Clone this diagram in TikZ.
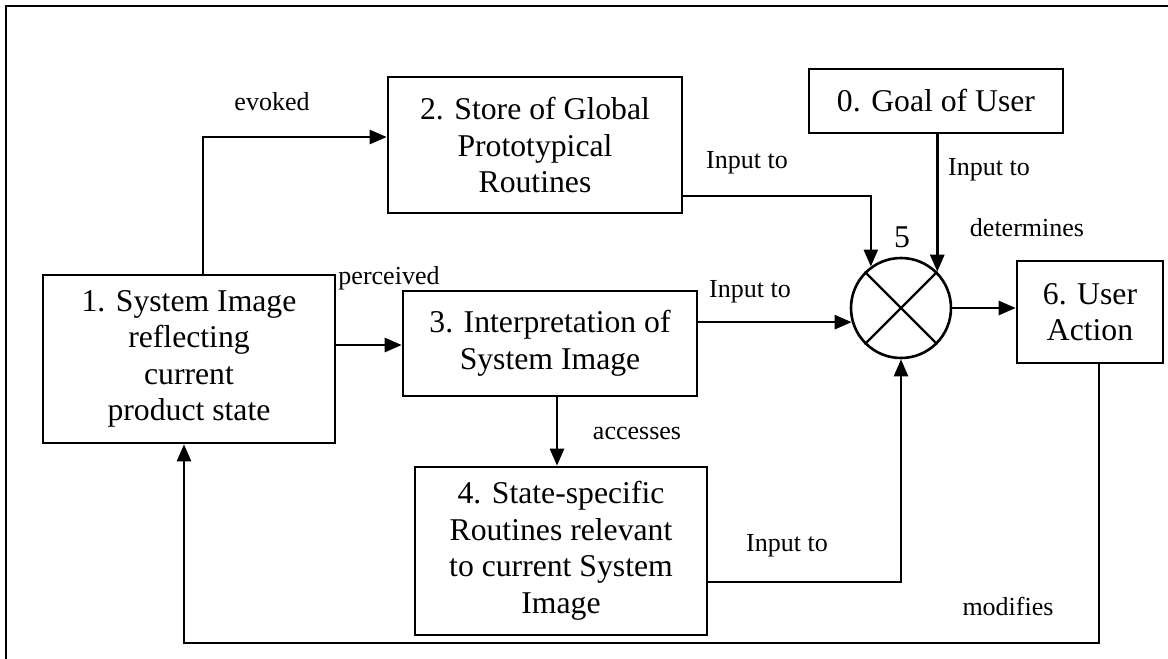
\documentclass[tikz,border=0pt]{standalone}
\usepackage{fontspec}
\setmainfont{Liberation Serif}
\usetikzlibrary{arrows.meta}
\begin{document}
\begin{tikzpicture}[x=1pt,y=-1pt,
  every path/.style={line width=2.6pt},
  boxnode/.style={draw,line width=2.6pt,align=center,inner sep=0pt,font=\fontsize{31.7}{36.5}\selectfont},
  lbl/.style={inner sep=0pt,font=\fontsize{26}{30}\selectfont},
  arr/.style={-{Triangle[length=17pt,width=14pt]}},
  line join=miter]
\useasboundingbox (0,0) rectangle (1168,659);
\fill[white] (0,0) rectangle (1168,659);
% frame
\draw[line width=2.2pt] (6,659) -- (6,6) -- (1168,6);
% boxes
\node[boxnode,minimum width=292pt,minimum height=168pt] (b1) at (189,359) {1. System Image\\reflecting\\current\\product state};
\node[boxnode,minimum width=294pt,minimum height=136pt] (b2) at (535,145) {2. Store of Global\\Prototypical\\Routines};
\node[boxnode,minimum width=294pt,minimum height=105pt] (b3) at (550,343.5) {3. Interpretation of\\System Image};
\node[boxnode,minimum width=292pt,minimum height=168pt] (b4) at (561,551) {4. State-specific\\Routines relevant\\to current System\\Image};
\node[boxnode,minimum width=254pt,minimum height=64pt] (b0) at (936,101) {0. Goal of User};
\node[boxnode,minimum width=146pt,minimum height=102pt] (b6) at (1090,312) {6. User\\Action};
\node[draw,circle,line width=2.6pt,minimum size=100pt,inner sep=0pt] (c5) at (901,308) {};
\draw[line width=2.3pt] (c5.45) -- (c5.225);
\draw[line width=2.3pt] (c5.135) -- (c5.315);
\node[inner sep=0pt,font=\fontsize{31.7}{36.5}\selectfont] (n5) at (902,237) {5};
% helper coordinates
\coordinate (ke) at (203,137);
\coordinate (k13) at (0,345);
\coordinate (k34) at (557,0);
\coordinate (k2) at (0,196);
\coordinate (k4) at (0,582);
\coordinate (k6) at (1099,643);
\coordinate (k1) at (184,643);
% connectors
\draw[arr] (b1.north -| ke) -- (ke) -- (b2.west |- ke);
\draw[arr] (b1.east |- k13) -- (b3.west |- k13);
\draw[arr] (b3.south -| k34) -- (b4.north -| k34);
\draw[arr] (b2.east |- k2) -| (c5.126.87);
\draw[arr] (b0.south -| c5.45.57) -- (c5.45.57);
\draw[arr] (b3.east |- c5.196.26) -- (c5.196.26);
\draw[arr] (b4.east |- k4) -| (c5.south);
\draw[arr] (c5.east) -- (c5.east -| b6.west);
\draw[arr] (b6.south -| k6) -- (k6) -- (k1) -- (b1.south -| k1);
% labels
\node[lbl] (le) at (272,102) {evoked};
\node[lbl] (lp) at (389,278) {perceived};
\node[lbl] (li2) at (747,163) {Input to};
\node[lbl] (li3) at (750,292) {Input to};
\node[lbl] (li0) at (989,170) {Input to};
\node[lbl] (ld) at (1027,228) {determines};
\node[lbl] (la) at (637,433) {accesses};
\node[lbl] (li4) at (787,546) {Input to};
\node[lbl] (lm) at (1008,606) {modifies};
\end{tikzpicture}
\end{document}
